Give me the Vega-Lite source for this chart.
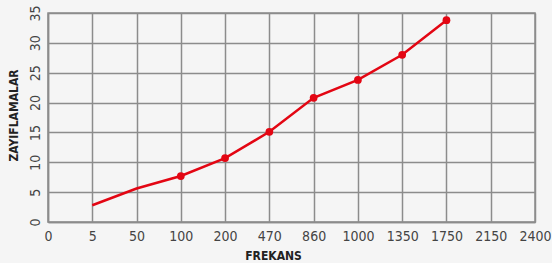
{
  "$schema": "https://vega.github.io/schema/vega-lite/v6.json",
  "autosize": "none",
  "width": 487,
  "height": 209,
  "padding": {"left": 48, "top": 13, "right": 17, "bottom": 41},
  "background": "#f5f5f5",
  "config": {
    "view": {"stroke": "#8c8c8c", "strokeWidth": 1.5},
    "axis": {
      "labelFont": "DejaVu Sans Condensed",
      "titleFont": "DejaVu Sans Condensed",
      "labelFontSize": 14,
      "labelColor": "#444444",
      "titleColor": "#222222",
      "titleFontSize": 12,
      "titleFontWeight": "bold",
      "gridColor": "#8c8c8c",
      "gridWidth": 1.5,
      "gridOpacity": 1,
      "domainColor": "#8c8c8c",
      "domainWidth": 1.5,
      "ticks": false
    }
  },
  "data": {
    "values": [
      {"f": "5", "v": 2.8},
      {"f": "50", "v": 5.6},
      {"f": "100", "v": 7.7},
      {"f": "200", "v": 10.7},
      {"f": "470", "v": 15.1},
      {"f": "860", "v": 20.8},
      {"f": "1000", "v": 23.8},
      {"f": "1350", "v": 28.0},
      {"f": "1750", "v": 33.8}
    ]
  },
  "encoding": {
    "x": {
      "field": "f",
      "type": "ordinal",
      "scale": {
        "type": "point",
        "padding": 0,
        "domain": ["0", "5", "50", "100", "200", "470", "860", "1000", "1350", "1750", "2150", "2400"]
      },
      "axis": {
        "title": "FREKANS",
        "labelAngle": 0,
        "labelPadding": 7,
        "grid": true,
        "titleX": 225,
        "titleY": 33,
        "titleBaseline": "middle",
        "titleAlign": "center"
      }
    },
    "y": {
      "field": "v",
      "type": "quantitative",
      "scale": {"domain": [0, 35], "nice": false},
      "axis": {
        "title": "ZAYIFLAMALAR",
        "values": [0, 5, 10, 15, 20, 25, 30, 35],
        "labelAngle": -90,
        "labelAlign": "center",
        "labelBaseline": "bottom",
        "labelPadding": 6,
        "titleX": -35,
        "titleY": 102,
        "titleBaseline": "middle",
        "titleAlign": "center"
      }
    }
  },
  "layer": [
    {"mark": {"type": "line", "color": "#e30613", "strokeWidth": 2.5}},
    {
      "transform": [{"filter": "datum.f != '5' && datum.f != '50'"}],
      "mark": {"type": "point", "filled": true, "color": "#e30613", "size": 60, "opacity": 1}
    }
  ]
}
